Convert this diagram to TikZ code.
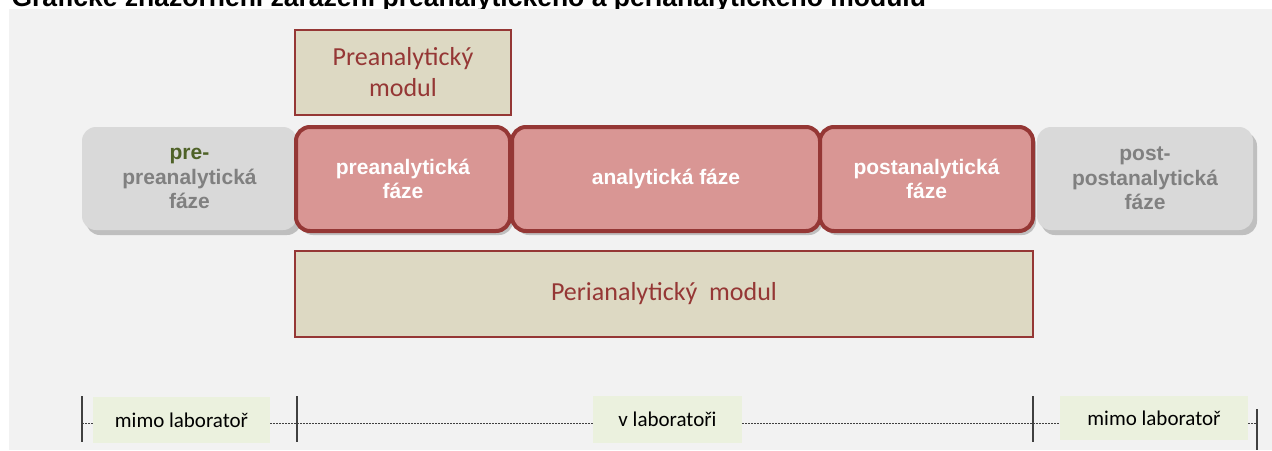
\documentclass[tikz,border=0pt]{standalone}
\usepackage{fontspec}
\setmainfont{Liberation Sans}
\newfontfamily\calibri{Carlito}
\usetikzlibrary{shadows}
\definecolor{panelgray}{HTML}{F2F2F2}
\definecolor{boxgray}{HTML}{D9D9D9}
\definecolor{shadegray}{HTML}{BFBFBF}
\definecolor{textgray}{HTML}{808080}
\definecolor{prepgreen}{HTML}{4F6228}
\definecolor{phasered}{HTML}{D99694}
\definecolor{darkred}{HTML}{953735}
\definecolor{modulbeige}{HTML}{DDD9C3}
\definecolor{placegreen}{HTML}{EBF1DE}
\definecolor{tickgray}{HTML}{404040}

\begin{document}
\begin{tikzpicture}[x=1pt,y=-1pt,
  phase/.style={rounded corners=14pt,inner sep=0pt,align=center,
    font=\fontsize{21}{24.5}\selectfont\bfseries},
  outerphase/.style={phase,fill=boxgray,text=textgray,minimum height=103pt,
    drop shadow={shadow xshift=4pt,shadow yshift=-5pt,fill=shadegray,opacity=1}},
  innerphase/.style={phase,fill=phasered,draw=darkred,line width=4pt,text=white,minimum height=104pt,
    drop shadow={shadow xshift=3pt,shadow yshift=-4pt,fill=shadegray,opacity=1}},
  modul/.style={fill=modulbeige,draw=darkred,line width=2pt,inner sep=0pt,align=center,
    text=darkred,font=\calibri\fontsize{26}{31}\selectfont},
  place/.style={fill=placegreen,inner sep=0pt,font=\calibri\fontsize{21}{25}\selectfont},
  boundtick/.style={draw=tickgray,line width=1.4pt},
  boundline/.style={draw=tickgray,line width=.9pt,dash pattern=on 2pt off 1pt}]
\useasboundingbox (0,0) rectangle (1272,450);
\node[anchor=base west,font=\fontsize{26.5}{30}\selectfont\bfseries] (title) at (8,6.5)
  {Grafické znázornění zařazení preanalytického a perianalytického modulu};
\fill[panelgray] (9,9) rectangle (1272,450);

% moduly
\node[modul,minimum width=216pt,minimum height=85pt] (premodul) at (403,72.5) {Preanalytický\\modul};
\node[modul,minimum width=738pt,minimum height=86pt] (perimodul) at (664,294) {Perianalytický\ \ modul};

% faze
\node[outerphase,minimum width=215pt] (prepre) at (189.5,178.5) {{\color{prepgreen}pre-}\\preanalytická\\fáze};
\node[outerphase,minimum width=216pt] (postpost) at (1145,178.5) {post-\\postanalytická\\fáze};
\node[innerphase,minimum width=214pt] (prea) at (403,179) {preanalytická\\fáze};
\node[innerphase,minimum width=308pt] (anal) at (666,179) {analytická fáze};
\node[innerphase,minimum width=213pt] (posta) at (926.5,179) {postanalytická\\fáze};

% hranice laboratore
\foreach \n/\x/\a/\b in {tA/82/396/442,tB/297/396/442,tC/1033/396/442,tD/1257/409/450}{
  \coordinate (\n) at (\x,423);
  \draw[boundtick] (\x,\a) -- (\x,\b);
}
\node[place,minimum width=177pt,minimum height=46pt] (mimoL) at (181.5,420) {mimo laboratoř};
\node[place,minimum width=149pt,minimum height=47pt] (vlab) at (667.5,419.5) {v laboratoři};
\node[place,minimum width=188pt,minimum height=44pt] (mimoR) at (1154,418) {mimo laboratoř};
\draw[boundline] (tA) -- (tA -| mimoL.west);
\draw[boundline] (tA -| mimoL.east) -- (tA -| vlab.west);
\draw[boundline] (tA -| vlab.east) -- (tA -| mimoR.west);
\draw[boundline] (tA -| mimoR.east) -- (tD);
\end{tikzpicture}
\end{document}
